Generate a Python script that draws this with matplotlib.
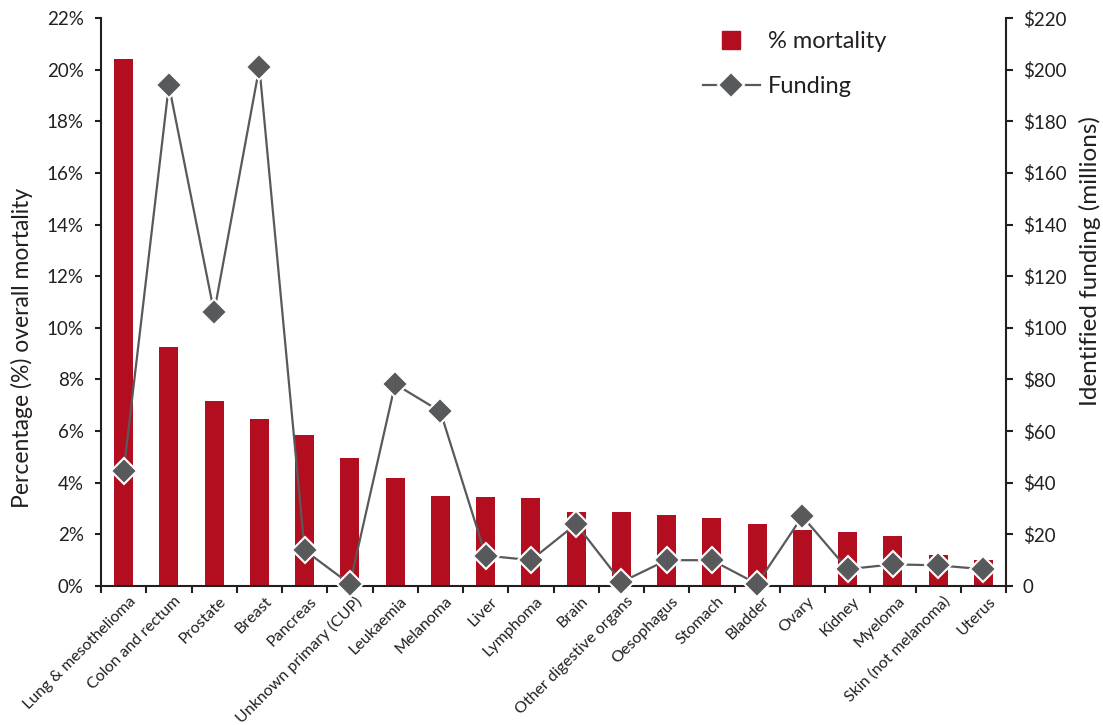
import matplotlib
matplotlib.use("Agg")
import matplotlib.pyplot as plt
from matplotlib.lines import Line2D
import numpy as np

categories = ["Lung & mesothelioma", "Colon and rectum", "Prostate", "Breast", "Pancreas",
              "Unknown primary (CUP)", "Leukaemia", "Melanoma", "Liver", "Lymphoma", "Brain",
              "Other digestive organs", "Oesophagus", "Stomach", "Bladder", "Ovary", "Kidney",
              "Myeloma", "Skin (not melanoma)", "Uterus"]
mortality = [20.4, 9.25, 7.15, 6.48, 5.86, 4.96, 4.2, 3.5, 3.45, 3.42, 2.85,
             2.85, 2.76, 2.64, 2.4, 2.17, 2.1, 1.94, 1.21, 0.99]
funding = [44.5, 194, 106, 201, 13.8, 0.8, 78.2, 67.6, 11.8, 10.0, 24.0,
           1.5, 10.0, 10.0, 0.8, 27.0, 6.5, 8.4, 8.0, 6.5]
left_ticks = list(range(0, 23, 2))
right_ticks = list(range(0, 221, 20))

RED = "#b20e1f"
GREY = "#58595b"
DARK = "#231f20"
plt.rcParams['font.family'] = ['Lato', 'DejaVu Sans']

fig = plt.figure(figsize=(11.03, 7.25), dpi=100)
ax = fig.add_axes([101/1103, 1-586/725, (1006-101)/1103, (586-18)/725])
x = np.arange(len(categories))
ax.bar(x, mortality, width=0.42, color=RED, zorder=2)
ax.set_xlim(-0.5, len(categories)-0.5)
ax.set_ylim(0, 22)
ax.set_yticks(left_ticks)
ax.set_yticklabels([f"{v}%" for v in left_ticks], fontsize=13.5, color=DARK)
ax.set_xticks(np.arange(len(categories)+1)-0.5)
ax.set_xticklabels([])
ax.set_xticks(x, minor=True)
ax.set_xticklabels(categories, minor=True, rotation=45, ha='right', va='top',
                   rotation_mode='anchor', fontsize=11.5, color=DARK)
ax.tick_params(axis='x', which='minor', length=0, pad=6)
ax.tick_params(axis='x', which='major', length=5, width=1.5, direction='out', color=DARK)
ax.tick_params(axis='y', length=4, width=1.5, direction='out', color=DARK, pad=8.5)
for s in ['top', 'right']:
    ax.spines[s].set_visible(False)
for s in ['left', 'bottom']:
    ax.spines[s].set_linewidth(1.5)
    ax.spines[s].set_color(DARK)
ax.set_ylabel("Percentage (%) overall mortality", fontsize=16.5, color=DARK, labelpad=10)
ax.yaxis.label.set_y(0.419)

ax2 = ax.twinx()
ax2.plot(x, funding, color=GREY, lw=1.6, marker='D', ms=13, mfc=GREY, mec='white',
         mew=1.5, zorder=3, clip_on=False)
ax2.set_ylim(0, 220)
ax2.set_yticks(right_ticks)
ax2.set_yticklabels(["0"] + [f"${v}" for v in right_ticks[1:]], fontsize=13.5, color=DARK)
ax2.tick_params(axis='y', length=5, width=1.5, direction='out', color=DARK, pad=7)
for s in ['top', 'left', 'bottom']:
    ax2.spines[s].set_visible(False)
ax2.spines['right'].set_linewidth(1.5)
ax2.spines['right'].set_color(DARK)
ax2.set_ylabel("Identified funding (millions)", fontsize=17.5, color=DARK, labelpad=9)
ax2.yaxis.label.set_y(0.572)

for lab in ax.get_xticklabels(minor=True):
    lab.set_transform(lab.get_transform() + matplotlib.transforms.ScaledTranslation(5/100, 0, fig.dpi_scale_trans))

handles = [Line2D([], [], ls='none', marker='s', ms=13.5, mfc=RED, mec=RED),
           Line2D([], [], color=GREY, lw=1.6, marker='D', ms=13, mfc=GREY, mec='white', mew=1.5)]
ax2.legend(handles, ["% mortality", "Funding"], loc='upper left',
           bbox_to_anchor=(703/1103, 1-31/725), bbox_transform=fig.transFigure,
           frameon=False, fontsize=17, handlelength=2.4, handletextpad=0.35,
           labelspacing=1.02, borderaxespad=0, borderpad=0, labelcolor=DARK)

fig.savefig("out.png", dpi=100)
